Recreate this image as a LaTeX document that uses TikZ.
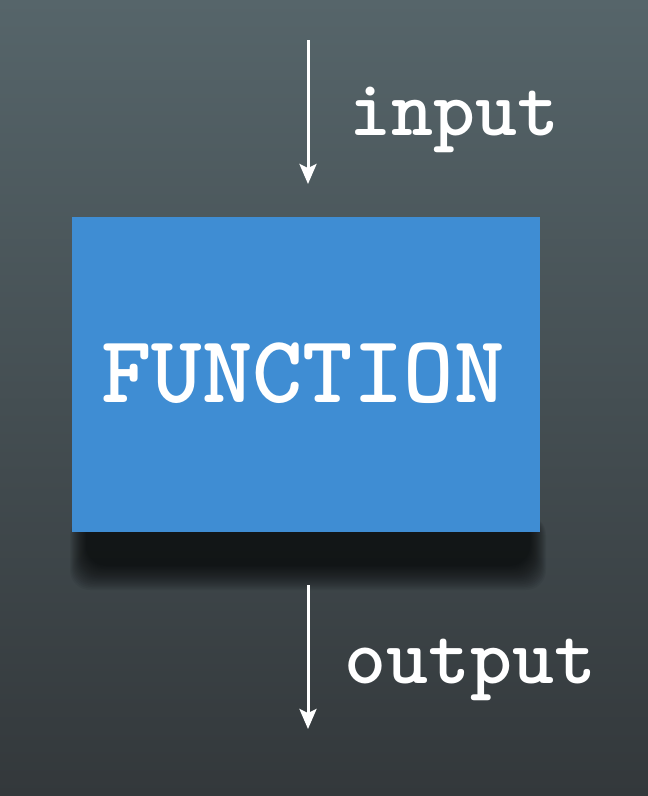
\documentclass[tikz,border=0pt]{standalone}
\usepackage{fontspec}
\usetikzlibrary{arrows.meta}

\definecolor{bgtop}{HTML}{56656A}
\definecolor{bgbot}{HTML}{33383B}
\definecolor{boxblue}{HTML}{3F8DD3}

\begin{document}
\begin{tikzpicture}[x=1pt,y=-1pt,->,>={Stealth[length=20pt,width=17pt,inset=4pt]},line width=3pt,
      box node/.style={rectangle,fill=boxblue,minimum width=468pt,minimum height=315pt,inner sep=0pt},
      label node/.style={text=white,font=\ttfamily\bfseries\fontsize{80}{80}\selectfont,anchor=base west,inner sep=0pt}]

    % background
    \shade[top color=bgtop,bottom color=bgbot,draw=none] (0,0) rectangle (648,796);
    \useasboundingbox (0,0) rectangle (648,796);

    % shadow under the box
    \foreach \s in {0,...,16}
      \fill[black,opacity=0.055,draw=none,rounded corners=20pt] (86-\s,515) rectangle (530+\s,566+1.5*\s);

    \node[box node] (func) at (306,374.5) {};
    \node[text=white,font=\ttfamily\bfseries\fontsize{96}{96}\selectfont,anchor=base] (fname) at (303,402) {FUNCTION};

    \coordinate (in top) at (308,40);
    \coordinate (in tip) at (308,184);
    \coordinate (out top) at (308,585);
    \coordinate (out tip) at (308,729);

    \draw[white] (in top) -- (in tip);
    \draw[white] (out top) -- (out tip);

    \node[label node] (input) at (348,135) {input};
    \node[label node] (output) at (343,683) {output};
\end{tikzpicture}
\end{document}
